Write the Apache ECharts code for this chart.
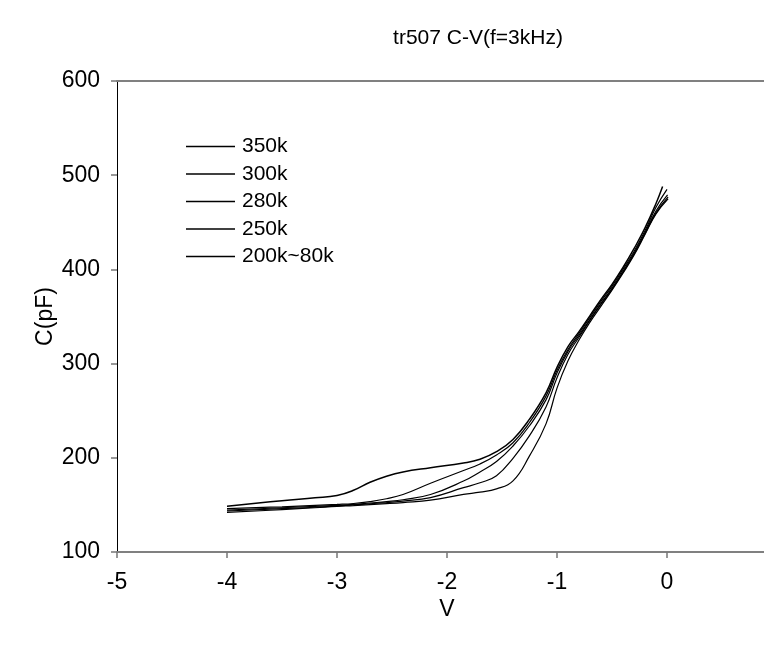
<!DOCTYPE html>
<html>
<head>
<meta charset="utf-8">
<title>tr507 C-V(f=3kHz)</title>
<script src="https://cdn.jsdelivr.net/npm/echarts@6/dist/echarts.min.js"></script>
<style>
  html, body { margin: 0; padding: 0; background: #fff; }
  #chart { width: 764px; height: 649px; }
</style>
</head>
<body>
<div id="chart"></div>
<script>
// Bias voltage grid (V) shared by all sweeps
const voltage = [-4.0, -3.5, -3.2, -3.0, -2.85, -2.7, -2.55, -2.4, -2.15, -1.85, -1.7, -1.55,
                 -1.4, -1.25, -1.1, -1.0, -0.9, -0.8, -0.7, -0.6, -0.5, -0.4, -0.3, -0.2, -0.1];

// Capacitance (pF) for each annealing condition
const cap350k = [148.5, 154.5, 157.5, 160, 165.5, 174, 180.5, 185, 189.5, 194.5, 198.5, 206.5,
                 219.5, 241, 269, 296, 318, 334, 351, 368, 384, 402, 422, 444, 470];
const cap300k = [146, 148, 149.5, 150.5, 151.5, 153.5, 156.5, 161, 173, 186.5, 193.5, 203,
                 216, 237.5, 265.5, 293, 315, 332, 349, 366, 382, 400, 419, 441, 466];
const cap280k = [144.5, 147, 148.5, 149.5, 150.5, 152, 153.5, 155.5, 161, 175.3, 185, 196,
                 212.5, 234, 261.5, 290, 313, 330, 347, 364, 380, 398, 417, 439, 462];
const cap250k = [143.5, 146, 147.5, 149, 150, 151.2, 152.5, 154, 157.8, 168.3, 173.5, 181,
                 199.5, 223.5, 254, 285, 310, 328, 346, 363, 379, 397, 416, 438, 460];
const cap200k = [142, 145, 147, 148.5, 149.3, 150.3, 151.3, 152.5, 155, 161.2, 163.5, 167,
                 175.5, 202, 236, 274, 303, 325, 344, 361, 378, 396, 415, 437, 459];

// Last measured point of each sweep
const tipVoltage = [-0.04, 0.0, 0.005, 0.01, 0.01];
const tipCap = [488, 485, 479, 477, 475];

const seriesNames = ['350k', '300k', '280k', '250k', '200k~80k'];
const capSets = [cap350k, cap300k, cap280k, cap250k, cap200k];

const yTicks = [100, 200, 300, 400, 500, 600];
const xTicks = [-5, -4, -3, -2, -1, 0];

const FONT = 'Liberation Sans, Arial, Helvetica, sans-serif';

const series = seriesNames.map(function (name, i) {
  const pts = voltage.map(function (v, k) { return [v, capSets[i][k]]; });
  pts.push([tipVoltage[i], tipCap[i]]);
  return {
    name: name,
    type: 'line',
    data: pts,
    smooth: 0.45,
    symbol: 'none',
    lineStyle: { color: '#000', width: i === 0 ? 1.5 : 1.2 },
    itemStyle: { color: '#000' },
    animation: false
  };
});

const chart = echarts.init(document.getElementById('chart'), null, { renderer: 'canvas' });
chart.setOption({
  backgroundColor: '#fff',
  animation: false,
  title: {
    text: 'tr507 C-V(f=3kHz)',
    left: 473,
    top: 23,
    textAlign: 'center',
    textStyle: { fontFamily: FONT, fontSize: 21, fontWeight: 'normal', color: '#000' }
  },
  legend: {
    orient: 'vertical',
    left: 181,
    top: 131,
    icon: 'rect',
    itemWidth: 49,
    itemHeight: 1.3,
    itemGap: 6.5,
    data: seriesNames,
    itemStyle: { color: '#000' },
    textStyle: { fontFamily: FONT, fontSize: 21, lineHeight: 21, color: '#000', padding: [0, 0, 0, 2] }
  },
  grid: { left: 117, right: -13, top: 81, bottom: 97, containLabel: false, outerBoundsMode: 'none' },
  xAxis: [
    {
      type: 'value',
      min: xTicks[0],
      max: 1,
      interval: 1,
      name: 'V',
      nameLocation: 'middle',
      nameGap: 46,
      nameMoveOverlap: false,
      nameTextStyle: { fontFamily: FONT, fontSize: 23, color: '#000' },
      axisLine: { show: true, onZero: false, lineStyle: { color: '#808080', width: 2 } },
      axisTick: { show: true, length: 6, lineStyle: { color: '#777', width: 1.5 } },
      axisLabel: {
        margin: 19,
        fontFamily: FONT, fontSize: 23, color: '#000',
        formatter: function (v) { return xTicks.indexOf(v) >= 0 ? String(v) : ''; }
      },
      splitLine: { show: false }
    },
    {
      type: 'value',
      position: 'top',
      min: xTicks[0],
      max: 1,
      interval: 1,
      axisLine: { show: true, onZero: false, lineStyle: { color: '#808080', width: 2 } },
      axisTick: { show: false },
      axisLabel: { show: false },
      splitLine: { show: false }
    }
  ],
  yAxis: {
    type: 'value',
    min: yTicks[0],
    max: yTicks[yTicks.length - 1],
    interval: 100,
    name: 'C(pF)',
    nameLocation: 'middle',
    nameGap: 60,
    nameMoveOverlap: false,
    nameTextStyle: { fontFamily: FONT, fontSize: 23, color: '#000' },
    axisLine: { show: true, onZero: false, lineStyle: { color: '#000', width: 1 } },
    axisTick: { show: true, length: 6, lineStyle: { color: '#777', width: 1.5 } },
    axisLabel: { margin: 17, fontFamily: FONT, fontSize: 23, color: '#000' },
    splitLine: { show: false }
  },
  series: series
});
</script>
</body>
</html>
